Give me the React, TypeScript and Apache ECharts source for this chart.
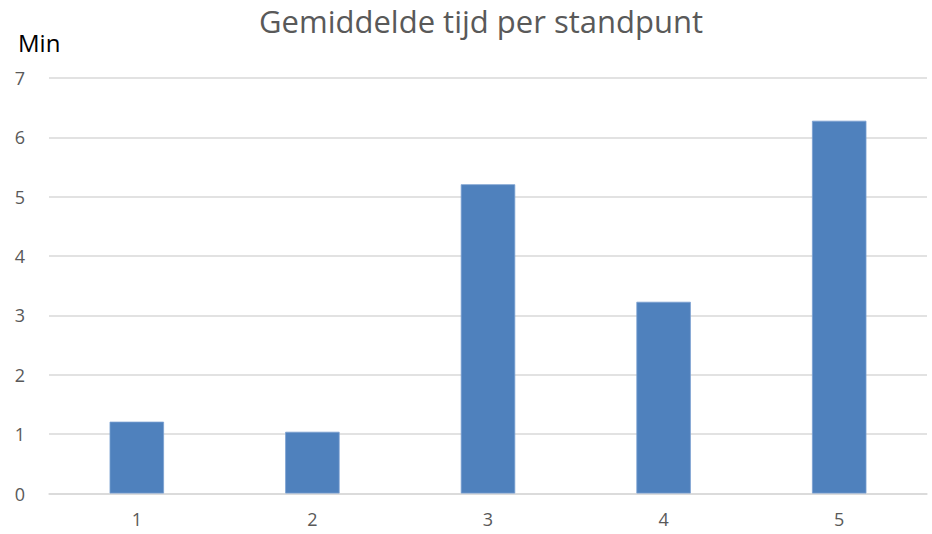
import React, { useEffect, useRef } from "react";
import * as echarts from "echarts";

const categories = ["1", "2", "3", "4", "5"];
const values = [1.21, 1.04, 5.21, 3.23, 6.28];
const yTicks = { min: 0, max: 7, interval: 1 };
const titleText = "Gemiddelde tijd per standpunt";
const yName = "Min";

export default function App() {
  const ref = useRef<HTMLDivElement>(null);
  useEffect(() => {
    if (!ref.current) return;
    const chart = echarts.init(ref.current, undefined, { renderer: "svg" });
    const font = "'Open Sans', Lato, sans-serif";
    chart.setOption({
      animation: false,
      backgroundColor: "#ffffff",
      title: {
        text: titleText,
        left: 476,
        top: 0,
        textAlign: "center",
        textStyle: { fontFamily: font, fontSize: 31, fontWeight: "normal", color: "#595959" },
      },
      graphic: [
        {
          type: "text",
          left: 18,
          top: 30,
          style: { text: yName, fontFamily: font, fontSize: 24, fill: "#000000" },
        },
      ],
      grid: { left: 49, right: 5, top: 78, bottom: 40.5, containLabel: false },
      xAxis: {
        type: "category",
        data: categories,
        axisTick: { show: false },
        axisLine: { show: true, lineStyle: { color: "#d9d9d9", width: 1.5 } },
        axisLabel: { fontFamily: font, fontSize: 18, color: "#595959", margin: 16 },
      },
      yAxis: {
        type: "value",
        min: yTicks.min,
        max: yTicks.max,
        interval: yTicks.interval,
        axisLine: { show: false },
        axisTick: { show: false },
        axisLabel: { fontFamily: font, fontSize: 18, color: "#595959", margin: 24 },
        splitLine: { lineStyle: { color: "#d9d9d9", width: 1.5 } },
      },
      series: [
        {
          type: "bar",
          data: values,
          barWidth: "31%",
          itemStyle: { color: "#4f81bd", borderColor: "#7aa0d0", borderWidth: 0.8 },
        },
      ],
    });
    return () => chart.dispose();
  }, []);
  return <div ref={ref} style={{ width: 932, height: 534, position: "absolute", left: 0, top: 0 }} />;
}
